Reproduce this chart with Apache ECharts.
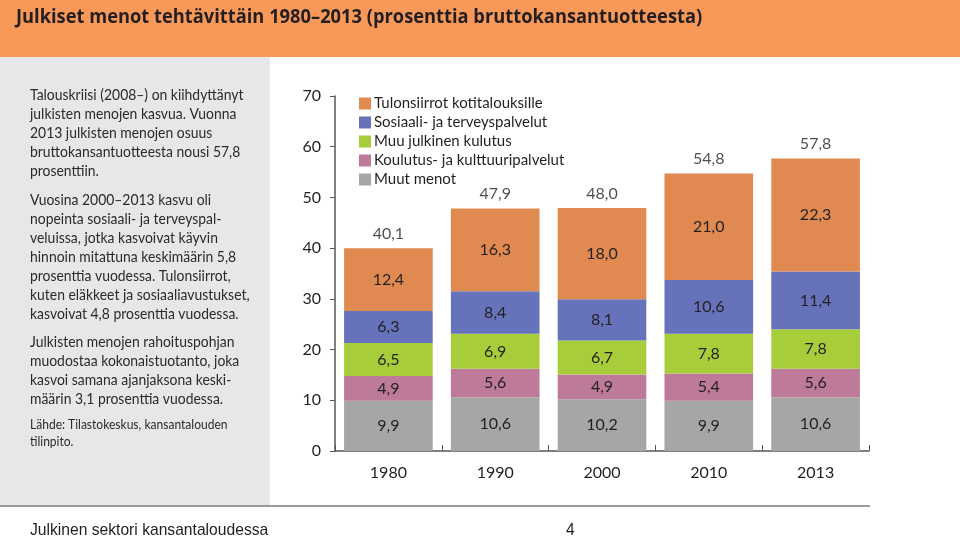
<!DOCTYPE html>
<html>
<head>
<meta charset="utf-8">
<script src="https://cdn.jsdelivr.net/npm/echarts@6/dist/echarts.min.js"></script>
<style>
html,body{margin:0;padding:0;background:#fff;}
#c{width:960px;height:541px;}
</style>
</head>
<body>
<div id="c"></div>
<script>
var categories = ['1980', '1990', '2000', '2010', '2013'];
var muutMenot = [9.9, 10.6, 10.2, 9.9, 10.6];
var koulutus = [4.9, 5.6, 4.9, 5.4, 5.6];
var muuJulkinen = [6.5, 6.9, 6.7, 7.8, 7.8];
var sosiaali = [6.3, 8.4, 8.1, 10.6, 11.4];
var tulonsiirrot = [12.4, 16.3, 18.0, 21.0, 22.3];
var totals = [40.1, 47.9, 48.0, 54.8, 57.8];
var yTicks = [0, 10, 20, 30, 40, 50, 60, 70];

var seriesNames = ['Tulonsiirrot kotitalouksille', 'Sosiaali- ja terveyspalvelut', 'Muu julkinen kulutus', 'Koulutus- ja kulttuuripalvelut', 'Muut menot'];
var colors = {
  'Tulonsiirrot kotitalouksille': '#E08A52',
  'Sosiaali- ja terveyspalvelut': '#6673BA',
  'Muu julkinen kulutus': '#A7CD3B',
  'Koulutus- ja kulttuuripalvelut': '#BD7B99',
  'Muut menot': '#A6A6A6'
};

var FONT = 'Lato, "Open Sans", sans-serif';
var TXT = '#231F20';
function fmt(v){ return v.toFixed(1).replace('.', ','); }

function barSeries(name, data){
  return {
    name: name, type: 'bar', stack: 'total', data: data,
    barCategoryGap: '17%',
    itemStyle: { color: colors[name] },
    label: { show: true, position: 'inside', color: TXT, fontSize: 16, fontFamily: FONT,
      formatter: function(p){ return fmt(p.value); } },
    emphasis: { disabled: true }
  };
}

var leftText = [
  {y: 95, t: 'Talouskriisi (2008–) on kiihdyttänyt'},
  {y: 114, t: 'julkisten menojen kasvua. Vuonna'},
  {y: 133, t: '2013 julkisten menojen osuus'},
  {y: 152, t: 'bruttokansantuotteesta nousi 57,8'},
  {y: 171, t: 'prosenttiin.'},
  {y: 200, t: 'Vuosina 2000–2013 kasvu oli'},
  {y: 219, t: 'nopeinta sosiaali- ja terveyspal-'},
  {y: 238, t: 'veluissa, jotka kasvoivat käyvin'},
  {y: 257, t: 'hinnoin mitattuna keskimäärin 5,8'},
  {y: 276, t: 'prosenttia vuodessa. Tulonsiirrot,'},
  {y: 295, t: 'kuten eläkkeet ja sosiaaliavustukset,'},
  {y: 314, t: 'kasvoivat 4,8 prosenttia vuodessa.'},
  {y: 342, t: 'Julkisten menojen rahoituspohjan'},
  {y: 361, t: 'muodostaa kokonaistuotanto, joka'},
  {y: 380, t: 'kasvoi samana ajanjaksona keski-'},
  {y: 399, t: 'määrin 3,1 prosenttia vuodessa.'}
];
var srcText = [
  {y: 424, t: 'Lähde: Tilastokeskus, kansantalouden'},
  {y: 441, t: 'tilinpito.'}
];

var graphics = [
  {type: 'rect', shape: {x: 0, y: 0, width: 960, height: 57}, style: {fill: '#F8995A'}, z: -10},
  {type: 'rect', shape: {x: 0, y: 57, width: 270, height: 449}, style: {fill: '#E6E7E9'}, z: -10},
  {type: 'rect', shape: {x: 0, y: 505, width: 870, height: 2}, style: {fill: '#9A9A9A'}, z: -10},
  {type: 'text', x: 16, y: 17, scaleX: 0.915, style: {text: 'Julkiset menot tehtävittäin 1980–2013 (prosenttia bruttokansantuotteesta)',
    font: 'bold 20px "Open Sans", sans-serif', fill: TXT, verticalAlign: 'middle'}},
  {type: 'text', x: 30, y: 530, scaleX: 0.92, style: {text: 'Julkinen sektori kansantaloudessa',
    font: '17px sans-serif', fill: TXT, verticalAlign: 'middle'}},
  {type: 'text', x: 566, y: 530, scaleX: 0.92, style: {text: '4',
    font: '17px sans-serif', fill: TXT, verticalAlign: 'middle'}}
];
leftText.forEach(function(l){
  graphics.push({type: 'text', x: 30, y: l.y, scaleX: 0.87, style: {text: l.t, font: '16px ' + FONT, fill: '#2b2b2b', verticalAlign: 'middle'}});
});
srcText.forEach(function(l){
  graphics.push({type: 'text', x: 30, y: l.y, scaleX: 0.86, style: {text: l.t, font: '14px ' + FONT, fill: '#2b2b2b', verticalAlign: 'middle'}});
});

var chart = echarts.init(document.getElementById('c'), null, {renderer: 'canvas'});
chart.setOption({
  animation: false,
  backgroundColor: '#ffffff',
  graphic: graphics,
  legend: {
    orient: 'vertical', left: 354, top: 91,
    data: seriesNames,
    icon: 'rect', itemWidth: 12, itemHeight: 12, itemGap: 4,
    textStyle: {fontSize: 15, color: TXT, fontFamily: FONT, lineHeight: 15, padding: [0,0,0,-2]},
    selectedMode: false
  },
  grid: {left: 335, right: 91, top: 96, bottom: 90, containLabel: false},
  xAxis: {
    type: 'category', data: categories,
    axisLine: {show: true, lineStyle: {color: '#555', width: 1.5}},
    axisTick: {show: true, inside: true, length: 6, lineStyle: {color: '#555'}},
    axisLabel: {fontSize: 16, color: TXT, fontFamily: FONT, margin: 14}
  },
  yAxis: {
    type: 'value', min: yTicks[0], max: yTicks[yTicks.length - 1], interval: 10,
    axisLine: {show: true, lineStyle: {color: '#555', width: 1.5}},
    axisTick: {show: true, length: 5, lineStyle: {color: '#555'}},
    splitLine: {show: false},
    axisLabel: {fontSize: 16, color: TXT, fontFamily: FONT, margin: 14}
  },
  series: [
    barSeries('Muut menot', muutMenot),
    barSeries('Koulutus- ja kulttuuripalvelut', koulutus),
    barSeries('Muu julkinen kulutus', muuJulkinen),
    barSeries('Sosiaali- ja terveyspalvelut', sosiaali),
    barSeries('Tulonsiirrot kotitalouksille', tulonsiirrot),
    {
      name: 'Yhteensä', type: 'scatter', data: totals, symbolSize: 0, silent: true,
      label: {show: true, position: 'top', distance: 6, color: TXT, fontSize: 16, fontFamily: FONT,
        formatter: function(p){ return fmt(p.value); }}
    }
  ]
});
</script>
</body>
</html>
